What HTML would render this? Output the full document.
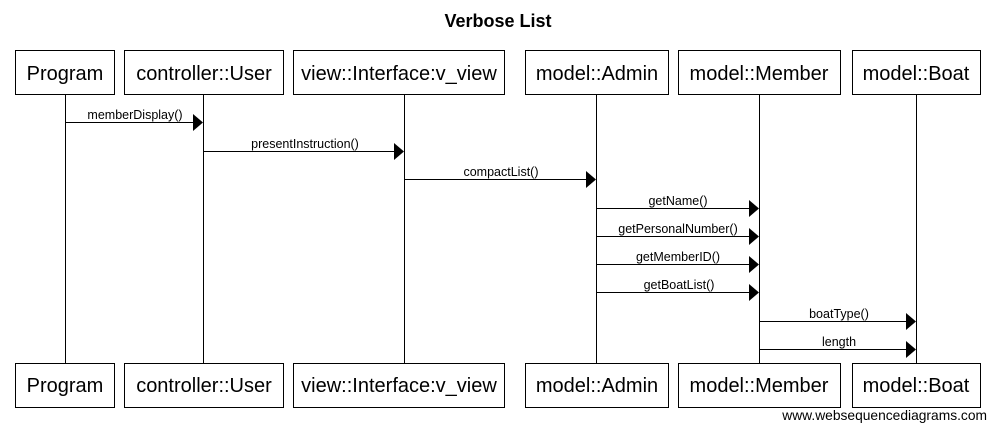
<!DOCTYPE html>
<html><head><meta charset="utf-8"><style>body{margin:0;background:#fff}</style></head><body>
<svg width="996" height="431" xmlns="http://www.w3.org/2000/svg" font-family="Liberation Sans, Arial, sans-serif">
<rect width="996" height="431" fill="#fff"/>
<text x="498" y="27" text-anchor="middle" font-size="18" font-weight="bold">Verbose List</text>
<g stroke="#000" stroke-width="1" fill="none">
<line x1="65.5" y1="94" x2="65.5" y2="363"/>
<line x1="203.5" y1="94" x2="203.5" y2="363"/>
<line x1="404.5" y1="94" x2="404.5" y2="363"/>
<line x1="596.5" y1="94" x2="596.5" y2="363"/>
<line x1="759.5" y1="94" x2="759.5" y2="363"/>
<line x1="916.5" y1="94" x2="916.5" y2="363"/>
<g fill="#fff">
<rect x="15.5" y="50.5" width="99" height="44"/><rect x="124.5" y="50.5" width="159" height="44"/>
<rect x="293.5" y="50.5" width="211" height="44"/><rect x="525.5" y="50.5" width="143" height="44"/>
<rect x="678.5" y="50.5" width="162" height="44"/><rect x="852.5" y="50.5" width="128" height="44"/>
<rect x="15.5" y="363.5" width="99" height="44"/><rect x="124.5" y="363.5" width="159" height="44"/>
<rect x="293.5" y="363.5" width="211" height="44"/><rect x="525.5" y="363.5" width="143" height="44"/>
<rect x="678.5" y="363.5" width="162" height="44"/><rect x="852.5" y="363.5" width="128" height="44"/>
</g>
<line x1="65" y1="122.5" x2="194" y2="122.5"/>
<line x1="203" y1="151.5" x2="395" y2="151.5"/>
<line x1="404" y1="179.5" x2="587" y2="179.5"/>
<line x1="596" y1="208.5" x2="750" y2="208.5"/>
<line x1="596" y1="236.5" x2="750" y2="236.5"/>
<line x1="596" y1="264.5" x2="750" y2="264.5"/>
<line x1="596" y1="292.5" x2="750" y2="292.5"/>
<line x1="759" y1="321.5" x2="907" y2="321.5"/>
<line x1="759" y1="349.5" x2="907" y2="349.5"/>
</g>
<g fill="#000">
<polygon points="193,114 203,122.5 193,131"/>
<polygon points="394,143 404,151.5 394,160"/>
<polygon points="586,171 596,179.5 586,188"/>
<polygon points="749,200 759,208.5 749,217"/>
<polygon points="749,228 759,236.5 749,245"/>
<polygon points="749,256 759,264.5 749,273"/>
<polygon points="749,284 759,292.5 749,301"/>
<polygon points="906,313 916,321.5 906,330"/>
<polygon points="906,341 916,349.5 906,358"/>
</g>
<g font-size="20" text-anchor="middle">
<text x="65" y="80">Program</text><text x="204" y="80">controller::User</text>
<text x="399" y="80">view::Interface:v_view</text><text x="597" y="80">model::Admin</text>
<text x="759" y="80">model::Member</text><text x="916" y="80">model::Boat</text>
<text x="65" y="392">Program</text><text x="204" y="392">controller::User</text>
<text x="399" y="392">view::Interface:v_view</text><text x="597" y="392">model::Admin</text>
<text x="759" y="392">model::Member</text><text x="916" y="392">model::Boat</text>
</g>
<g font-size="12.5" text-anchor="middle">
<text x="135" y="119">memberDisplay()</text>
<text x="305" y="148">presentInstruction()</text>
<text x="501" y="176">compactList()</text>
<text x="678" y="205">getName()</text>
<text x="678" y="233">getPersonalNumber()</text>
<text x="678" y="261">getMemberID()</text>
<text x="679" y="289">getBoatList()</text>
<text x="839" y="318">boatType()</text>
<text x="839" y="346">length</text>
</g>
<text x="987" y="420" font-size="13.8" text-anchor="end">www.websequencediagrams.com</text>
</svg>
</body></html>
